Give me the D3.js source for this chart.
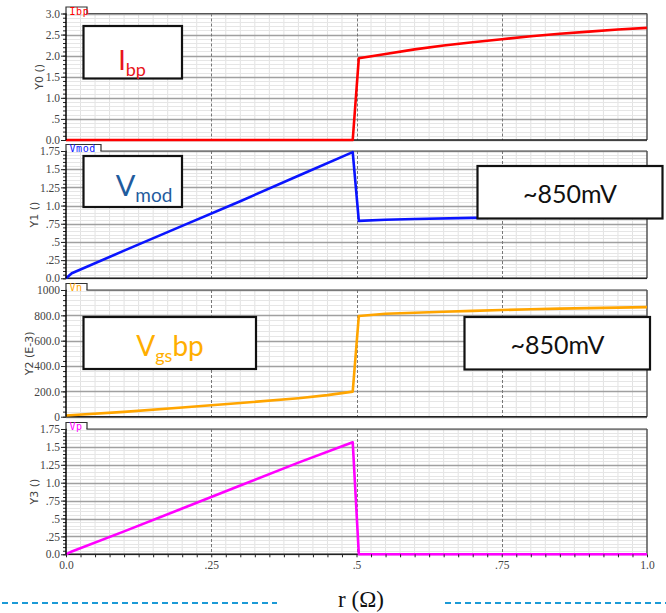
<!DOCTYPE html>
<html><head><meta charset="utf-8">
<script src="https://cdn.jsdelivr.net/npm/d3@7/dist/d3.min.js"></script>
<style>
html,body{margin:0;padding:0;background:#fff;}
svg{display:block;}
</style></head>
<body>
<svg id="chart" width="666" height="613"></svg>
<script>
// ---------- DATA ----------
const xTicks = [0, 0.25, 0.5, 0.75, 1.0];
const xTickLabels = ["0.0", ".25", ".5", ".75", "1.0"];

const ibpX = [0, 0.4935, 0.504, 0.55, 0.6, 0.65, 0.7, 0.75, 0.8, 0.85, 0.9, 0.95, 1.0];
const ibpY = [0, 0, 1.94, 2.04, 2.15, 2.24, 2.32, 2.39, 2.46, 2.52, 2.57, 2.62, 2.66];

const vmodX = [0, 0.01, 0.1, 0.2, 0.3, 0.4, 0.4935, 0.504, 0.55, 0.6, 0.7, 0.8, 0.9, 1.0];
const vmodY = [0, 0.07, 0.38, 0.72, 1.06, 1.41, 1.735, 0.79, 0.805, 0.815, 0.83, 0.84, 0.845, 0.85];

const vnX = [0, 0.1, 0.2, 0.3, 0.4, 0.45, 0.4935, 0.504, 0.55, 0.6, 0.65, 0.7, 0.75, 0.8, 0.85, 0.9, 0.95, 1.0];
const vnY = [10, 38, 72, 108, 146, 170, 198, 795, 812, 820, 828, 835, 842, 848, 853, 857, 861, 865];

const vpX = [0, 0.01, 0.1, 0.2, 0.3, 0.4, 0.4935, 0.504, 1.0];
const vpY = [0, 0.04, 0.32, 0.64, 0.96, 1.28, 1.565, 0, 0];

const yTicks0 = [0, 0.5, 1.0, 1.5, 2.0, 2.5, 3.0];
const yLabels0 = ["0.0", ".5", "1.0", "1.5", "2.0", "2.5", "3.0"];
const yTicks1 = [0, 0.25, 0.5, 0.75, 1.0, 1.25, 1.5, 1.75];
const yLabels1 = ["0.0", ".25", ".5", ".75", "1.0", "1.25", "1.5", "1.75"];
const yTicks2 = [0, 200, 400, 600, 800, 1000];
const yLabels2 = ["0", "200.0", "400.0", "600.0", "800.0", "1000"];
const yTicks3 = [0, 0.25, 0.5, 0.75, 1.0, 1.25, 1.5, 1.75];
const yLabels3 = ["0.0", ".25", ".5", ".75", "1.0", "1.25", "1.5", "1.75"];

const seriesNames = ["Ibp", "Vmod", "Vn", "Vp"];
const axisTitles = ["Y0 ()", "Y1 ()", "Y2 (E-3)", "Y3 ()"];
const xTitle = "r (Ω)";
const boxTexts = ["~850mV", "~850mV"];

// ---------- LAYOUT ----------
const svg = d3.select("#chart");
const x = d3.scaleLinear().domain([0, 1]).range([66, 647]);

const panels = [
  {name: seriesNames[0], xs: ibpX, ys: ibpY, color: "#ff0000", dom: [0, 3], rng: [140, 13.5], ticks: yTicks0, labels: yLabels0, minor: 0.1, title: axisTitles[0], titleX: 39, tabW: 21},
  {name: seriesNames[1], xs: vmodX, ys: vmodY, color: "#0a14ff", dom: [0, 1.75], rng: [278.3, 151], ticks: yTicks1, labels: yLabels1, minor: 0.05, title: axisTitles[1], titleX: 34, tabW: 35},
  {name: seriesNames[2], xs: vnX, ys: vnY, color: "#ffa500", dom: [0, 1000], rng: [416.7, 290], ticks: yTicks2, labels: yLabels2, minor: 40, title: axisTitles[2], titleX: 29, tabW: 21},
  {name: seriesNames[3], xs: vpX, ys: vpY, color: "#ff00ff", dom: [0, 1.75], rng: [554.3, 429], ticks: yTicks3, labels: yLabels3, minor: 0.05, title: axisTitles[3], titleX: 34, tabW: 21}
];

const minorX = d3.range(0, 1.0001, 0.025);
const tickFont = "'Liberation Serif', serif";

panels.forEach((p, i) => {
  const y = d3.scaleLinear().domain(p.dom).range(p.rng);
  const g = svg.append("g");
  const top = p.rng[1], bot = p.rng[0];
  const minorY = d3.range(p.dom[0], p.dom[1] + p.minor / 2, p.minor);

  // minor vertical grid
  g.selectAll(".mv").data(minorX.filter(v => Math.abs(v * 4 - Math.round(v * 4)) > 1e-6))
    .join("line").attr("x1", d => x(d)).attr("x2", d => x(d)).attr("y1", top).attr("y2", bot)
    .attr("stroke", "#e2e2e2").attr("stroke-width", 1);
  // minor horizontal grid
  g.selectAll(".mh").data(minorY).join("line")
    .attr("x1", x(0)).attr("x2", x(1)).attr("y1", d => Math.round(y(d)) + 0.5).attr("y2", d => Math.round(y(d)) + 0.5)
    .attr("stroke", "#e6e6e6").attr("stroke-width", 1);
  // major horizontal grid
  g.selectAll(".Mh").data(p.ticks).join("line")
    .attr("x1", x(0)).attr("x2", x(1)).attr("y1", d => Math.round(y(d)) + 0.5).attr("y2", d => Math.round(y(d)) + 0.5)
    .attr("stroke", "#a0a0a0").attr("stroke-width", 1.3);
  // major vertical dashed
  g.selectAll(".Mv").data([0.25, 0.5, 0.75]).join("line")
    .attr("x1", d => Math.round(x(d)) + 0.5).attr("x2", d => Math.round(x(d)) + 0.5).attr("y1", top).attr("y2", bot)
    .attr("stroke", "#777").attr("stroke-width", 1).attr("stroke-dasharray", "3,2");

  // frame top/right/bottom
  g.append("line").attr("x1", x(0)).attr("x2", x(1)).attr("y1", top).attr("y2", top).attr("stroke", "#555").attr("stroke-width", 1.2);
  g.append("line").attr("x1", x(1)).attr("x2", x(1)).attr("y1", top).attr("y2", bot).attr("stroke", "#555").attr("stroke-width", 1.5);
  g.append("line").attr("x1", x(0)).attr("x2", x(1)).attr("y1", bot).attr("y2", bot).attr("stroke", "#222").attr("stroke-width", 1.5);

  // tab legend
  const tabTop = top - 6.5;
  g.append("rect").attr("x", x(0) + 0.6).attr("y", tabTop).attr("width", p.tabW - 1.2).attr("height", top - tabTop + 1.2)
    .attr("fill", "#fff");
  g.append("path").attr("d", `M${x(0)},${top} L${x(0)},${tabTop} L${x(0) + p.tabW},${tabTop} L${x(0) + p.tabW},${top}`)
    .attr("fill", "none").attr("stroke", "#333").attr("stroke-width", 1.2);
  g.append("text").attr("x", x(0) + 3.5).attr("y", top + 1).text(p.name)
    .attr("fill", p.color).attr("font-family", "'DejaVu Sans Mono', monospace").attr("font-size", 10)
    .attr("letter-spacing", 0.6);

  // series line
  const pts = p.xs.map((v, k) => [v, p.ys[k]]);
  g.append("path").datum(pts)
    .attr("d", d3.line().x(d => x(d[0])).y(d => y(d[1])))
    .attr("fill", "none").attr("stroke", p.color).attr("stroke-width", 2.6).attr("stroke-linejoin", "round");

  // y axis minor
  const minorAxis = d3.axisLeft(y).tickValues(minorY).tickSize(3).tickFormat("");
  g.append("g").attr("transform", `translate(${x(0)},0)`).call(minorAxis)
    .call(a => a.select(".domain").remove())
    .selectAll("line").attr("stroke", "#222");
  // y axis major
  const yAxis = d3.axisLeft(y).tickValues(p.ticks).tickSize(5).tickPadding(1)
    .tickFormat((d, k) => p.labels[k]);
  const ga = g.append("g").attr("transform", `translate(${x(0)},0)`).call(yAxis);
  ga.select(".domain").attr("stroke", "#000").attr("stroke-width", 1.5).attr("d", `M0,${bot}V${top}`);
  ga.selectAll("line").attr("stroke", "#222");
  ga.selectAll("text").attr("font-family", tickFont).attr("font-size", 11.5).attr("fill", "#444");

  // axis title
  const cy = (top + bot) / 2;
  g.append("text").attr("transform", `translate(${p.titleX + 4},${cy}) rotate(-90)`)
    .attr("text-anchor", "middle").text(p.title)
    .attr("font-family", "'DejaVu Sans', sans-serif").attr("font-size", 11).attr("fill", "#444");

  if (i === 3) {
    const xMinor = d3.axisBottom(x).tickValues(minorX).tickSize(3).tickFormat("");
    svg.append("g").attr("transform", `translate(0,${bot})`).call(xMinor)
      .call(a => a.select(".domain").remove()).selectAll("line").attr("stroke", "#222");
    const xAxis = d3.axisBottom(x).tickValues(xTicks).tickSize(0).tickPadding(7)
      .tickFormat((d, k) => xTickLabels[k]);
    const gx = svg.append("g").attr("transform", `translate(0,${bot})`).call(xAxis);
    gx.select(".domain").remove();
    gx.selectAll("text").attr("font-family", tickFont).attr("font-size", 11.5).attr("fill", "#444");
  }
});

// ---------- ANNOTATION BOXES ----------
const sans = "Lato, 'Open Sans', sans-serif";
function box(x0, y0, w, h) {
  svg.append("rect").attr("x", x0).attr("y", y0).attr("width", w).attr("height", h)
    .attr("fill", "#fff").attr("stroke", "#111").attr("stroke-width", 2.2);
}
box(83.5, 26, 98.5, 52.5);
let t = svg.append("text").attr("x", 132).attr("y", 70).attr("text-anchor", "middle").attr("font-family", sans).attr("fill", "#e8141c");
t.append("tspan").attr("font-size", 27).text("I");
t.append("tspan").attr("font-size", 18).attr("dy", 6).text("bp");

box(83.5, 156, 98.5, 51);
t = svg.append("text").attr("x", 144).attr("y", 196).attr("text-anchor", "middle").attr("font-family", sans).attr("fill", "#1f5c9e");
t.append("tspan").attr("font-size", 29).text("V");
t.append("tspan").attr("font-size", 19).attr("dy", 6).text("mod");

box(477.5, 166, 185, 52.5);
svg.append("text").attr("x", 570).attr("y", 202.5).attr("text-anchor", "middle").attr("font-family", sans)
  .attr("font-size", 25).attr("fill", "#111").text(boxTexts[0]);

box(83.5, 317, 172.5, 52);
t = svg.append("text").attr("x", 170).attr("y", 356).attr("text-anchor", "middle").attr("font-family", sans).attr("fill", "#ffae00");
t.append("tspan").attr("font-size", 28).text("V");
t.append("tspan").attr("font-size", 18).attr("dy", 6).text("gs");
t.append("tspan").attr("font-size", 28).attr("dy", -6).text("bp");

box(464.5, 317, 185.5, 52.5);
svg.append("text").attr("x", 557.5).attr("y", 353.5).attr("text-anchor", "middle").attr("font-family", sans)
  .attr("font-size", 25).attr("fill", "#111").text(boxTexts[1]);

// ---------- BOTTOM ----------
svg.append("line").attr("x1", 2).attr("x2", 277).attr("y1", 603).attr("y2", 603)
  .attr("stroke", "#1b9ad6").attr("stroke-width", 2).attr("stroke-dasharray", "6,4");
svg.append("line").attr("x1", 445).attr("x2", 666).attr("y1", 603).attr("y2", 603)
  .attr("stroke", "#1b9ad6").attr("stroke-width", 2).attr("stroke-dasharray", "6,4");
svg.append("text").attr("x", 361).attr("y", 607).attr("text-anchor", "middle")
  .attr("font-family", "'Liberation Serif', serif").attr("font-size", 23).attr("fill", "#111").text(xTitle);
</script>
</body></html>
